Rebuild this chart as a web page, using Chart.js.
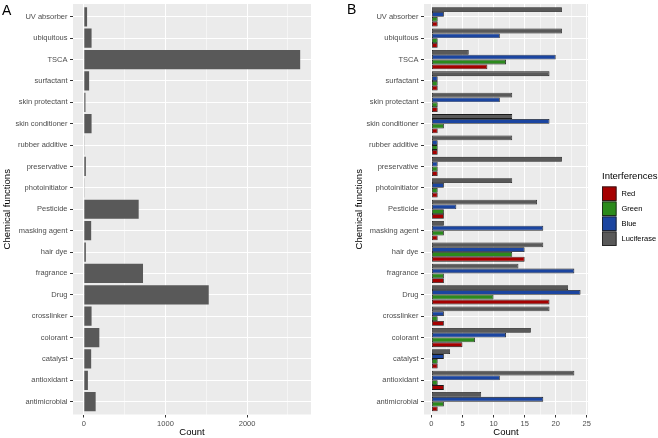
<!DOCTYPE html>
<html>
<head>
<meta charset="utf-8">
<script src="https://cdn.jsdelivr.net/npm/chart.js@4.4.1/dist/chart.umd.min.js"></script>
<style>
  body { margin: 0; background: #fff; }
  #wrapA { position: absolute; left: 0; top: 0; width: 320px; height: 438px; }
  #wrapB { position: absolute; left: 330px; top: 0; width: 328px; height: 438px; }
</style>
</head>
<body>
<div id="wrapA"><canvas id="chartA"></canvas></div>
<div id="wrapB"><canvas id="chartB"></canvas></div>
<script>
// categories, top to bottom
const functions = ['UV absorber', 'ubiquitous', 'TSCA', 'surfactant', 'skin protectant',
  'skin conditioner', 'rubber additive', 'preservative', 'photoinitiator', 'Pesticide',
  'masking agent', 'hair dye', 'fragrance', 'Drug', 'crosslinker', 'colorant', 'catalyst',
  'antioxidant', 'antimicrobial'];

// panel A
const totalCount = [40, 95, 2650, 65, 20, 95, 8, 25, 8, 672, 90, 25, 725, 1530, 95, 190, 90, 50, 145];

// panel B
const seriesNames = ['Red', 'Green', 'Blue', 'Luciferase'];
const redCount = [1, 1, 9, 1, 1, 1, 1, 1, 1, 2, 1, 15, 2, 19, 2, 5, 1, 2, 1];
const greenCount = [1, 1, 12, 1, 1, 2, 1, 1, 1, 2, 2, 13, 2, 10, 1, 7, 1, 1, 2];
const blueCount = [2, 11, 20, 1, 11, 19, 1, 1, 2, 4, 18, 15, 23, 24, 2, 12, 2, 11, 18];
const lucCount = [21, 21, 6, 19, 13, 13, 13, 21, 13, 17, 2, 18, 14, 22, 19, 16, 3, 23, 8];

const xTicksA = [0, 500, 1000, 1500, 2000, 2500];
const xTicksB = [0, 2.5, 5, 7.5, 10, 12.5, 15, 17.5, 20, 22.5, 25];

const FONT = 'Liberation Sans, Arial, Helvetica, sans-serif';
Chart.defaults.font.family = FONT;

const panelBg = {
  id: 'panelBg',
  beforeDraw(chart) {
    const a = chart.chartArea;
    const ctx = chart.ctx;
    ctx.save();
    ctx.fillStyle = '#EBEBEB';
    ctx.fillRect(a.left, a.top, a.right - a.left, a.bottom - a.top);
    ctx.restore();
  }
};

function tagPlugin(letter, x, y) {
  return {
    id: 'tag' + letter,
    afterDraw(chart) {
      const ctx = chart.ctx;
      ctx.save();
      ctx.fillStyle = '#000';
      ctx.font = '14px ' + FONT;
      ctx.textBaseline = 'alphabetic';
      ctx.fillText(letter, x, y);
      ctx.restore();
    }
  };
}

function yScale(axisWidth, titlePad) {
  return {
    type: 'linear',
    reverse: true,
    offset: false,
    min: -0.6,
    max: functions.length - 0.4,
    afterBuildTicks: s => { s.ticks = functions.map((f, i) => ({ value: i })); },
    afterFit: s => { s.width = axisWidth; s.paddingTop = 0; s.paddingBottom = 0; },
    ticks: {
      autoSkip: false,
      callback: v => functions[v],
      font: { size: 7.5 },
      color: '#4D4D4D',
      padding: 2.5
    },
    grid: { offset: false, color: '#fff', lineWidth: 1, tickColor: '#333', tickLength: 3, tickWidth: 1 },
    border: { display: false },
    title: {
      display: true,
      text: 'Chemical functions',
      color: '#000',
      font: { size: 9.5 },
      padding: { top: titlePad, bottom: 0 }
    }
  };
}

function xScale(min, max, tickList, major) {
  const isMajor = v => Math.abs(v % major) < 1e-9;
  return {
    type: 'linear',
    min: min,
    max: max,
    afterBuildTicks: s => { s.ticks = tickList.map(v => ({ value: v })); },
    afterFit: s => { s.height = 23.5; s.paddingLeft = 0; s.paddingRight = 0; },
    ticks: {
      autoSkip: false,
      maxRotation: 0,
      callback: v => isMajor(v) ? String(v) : '',
      font: { size: 7.5 },
      color: '#4D4D4D',
      padding: 1.5
    },
    grid: {
      color: '#fff',
      lineWidth: c => (c.tick && isMajor(c.tick.value)) ? 1 : 0.5,
      tickColor: c => (c.tick && isMajor(c.tick.value)) ? '#333' : 'rgba(0,0,0,0)',
      tickLength: 3,
      tickWidth: 1
    },
    border: { display: false },
    title: {
      display: true,
      text: 'Count',
      color: '#000',
      font: { size: 9.5 },
      padding: { top: 0, bottom: 0 }
    }
  };
}

// chart A
new Chart(document.getElementById('chartA'), {
  type: 'bar',
  data: {
    datasets: [{
      label: 'Count',
      data: totalCount.map((v, i) => ({ x: v, y: i })),
      backgroundColor: '#595959',
      borderWidth: 0,
      barPercentage: 0.9,
      categoryPercentage: 1
    }]
  },
  options: {
    indexAxis: 'y',
    responsive: true,
    maintainAspectRatio: false,
    animation: false,
    devicePixelRatio: 1,
    layout: { padding: { left: 0, right: 9, top: 4, bottom: 0 } },
    plugins: { legend: { display: false }, tooltip: { enabled: false } },
    scales: {
      x: xScale(-132.5, 2782.5, xTicksA, 1000),
      y: yScale(73, 1.5)
    }
  },
  plugins: [panelBg, tagPlugin('A', 2, 15)]
});

// chart B
const colorsB = { Red: '#A50000', Green: '#2B8A1C', Blue: '#1B45A0', Luciferase: '#595959' };
const valuesB = { Red: redCount, Green: greenCount, Blue: blueCount, Luciferase: lucCount };

const legendB = {
  id: 'legendB',
  afterDraw(chart) {
    const ctx = chart.ctx;
    const x = 272;
    ctx.save();
    ctx.fillStyle = '#000';
    ctx.font = '9.5px ' + FONT;
    ctx.textBaseline = 'middle';
    ctx.fillText('Interferences', x, 176);
    ctx.font = '7.5px ' + FONT;
    for (let i = 0; i < seriesNames.length; i++) {
      const name = seriesNames[i];
      const y = 186.5 + i * 15;
      ctx.fillStyle = colorsB[name];
      ctx.fillRect(x, y, 14.5, 14.5);
      ctx.strokeStyle = '#1a1a1a';
      ctx.lineWidth = 0.8;
      ctx.strokeRect(x + 0.4, y + 0.4, 13.7, 13.7);
      ctx.fillStyle = '#000';
      ctx.fillText(name, x + 19.5, y + 7.5);
    }
    ctx.restore();
  }
};

// top of each group is Luciferase, bottom is Red
let datasetsB = [];
for (let i = seriesNames.length - 1; i >= 0; i--) {
  const name = seriesNames[i];
  datasetsB.push({
    label: name,
    data: valuesB[name].map((v, j) => ({ x: v, y: j })),
    backgroundColor: colorsB[name],
    borderColor: '#1a1a1a',
    borderWidth: 0.8,
    borderSkipped: false,
    barPercentage: 1,
    categoryPercentage: 0.9
  });
}

new Chart(document.getElementById('chartB'), {
  type: 'bar',
  data: { datasets: datasetsB },
  options: {
    indexAxis: 'y',
    responsive: true,
    maintainAspectRatio: false,
    animation: false,
    devicePixelRatio: 1,
    layout: { padding: { left: 0, right: 70, top: 4, bottom: 0 } },
    plugins: { legend: { display: false }, tooltip: { enabled: false } },
    scales: {
      x: xScale(-1.2, 25.2, xTicksB, 5),
      y: yScale(94, 23.8)
    }
  },
  plugins: [panelBg, legendB, tagPlugin('B', 17, 14)]
});
</script>
</body>
</html>
